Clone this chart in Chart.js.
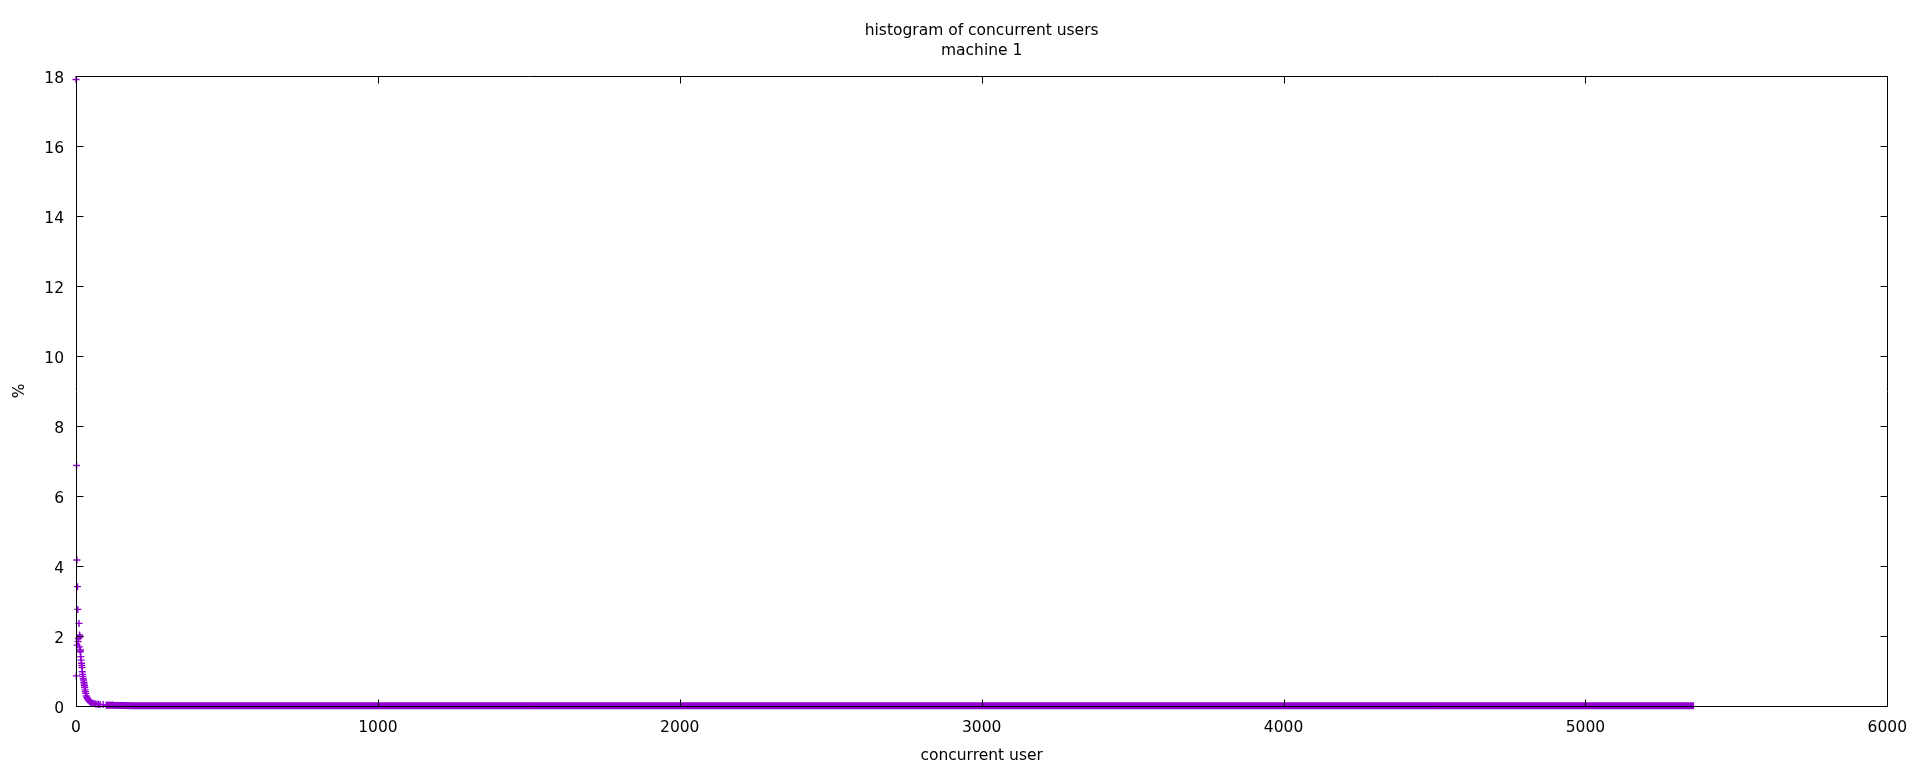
<!DOCTYPE html>
<html>
<head>
<meta charset="utf-8">
<script src="https://cdn.jsdelivr.net/npm/chart.js@4.4.0/dist/chart.umd.min.js"></script>
<style>
  html, body { margin: 0; padding: 0; background: #fff; }
  #wrap { width: 1920px; height: 768px; }
</style>
</head>
<body>
<div id="wrap"><canvas id="chart" width="1920" height="768"></canvas></div>
<script>
// first users: one marker per value
const headX = [0, 1, 2, 3, 4, 5, 6, 7, 8, 10, 11, 12, 13, 14, 15, 16, 17, 18, 19, 20,
               21, 22, 23, 24, 25, 26, 27, 28, 29, 30, 31, 32, 34, 36, 38, 40, 43, 46, 49, 52,
               56, 60, 65, 70, 75, 80, 90, 100, 110, 120];
const headY = [17.9, 0.86, 6.87, 4.17, 1.74, 3.41, 2.76, 1.84, 1.93, 2.36, 1.69, 2.03, 1.97, 1.55, 1.6, 1.41, 1.31, 1.22, 1.16, 1.1,
               0.98, 0.9, 0.84, 0.78, 0.74, 0.68, 0.63, 0.58, 0.53, 0.46, 0.41, 0.36, 0.29, 0.25, 0.22, 0.18, 0.15, 0.12, 0.1, 0.09,
               0.08, 0.07, 0.06, 0.05, 0.05, 0.04, 0.04, 0.03, 0.03, 0.03];

// long flat tail (markers merge into a solid band in the original)
const tailX = [100, 200, 300, 400, 500, 600, 700, 800, 900, 1000, 1100, 1200, 1300, 1400, 1500, 1600, 1700, 1800,
               1900, 2000, 2100, 2200, 2300, 2400, 2500, 2600, 2700, 2800, 2900, 3000, 3100, 3200, 3300, 3400, 3500,
               3600, 3700, 3800, 3900, 4000, 4100, 4200, 4300, 4400, 4500, 4600, 4700, 4800, 4900, 5000, 5100, 5200,
               5300, 5360];
const tailY = [0.02, 0.01, 0.01, 0.01, 0.01, 0.01, 0.01, 0.01, 0.01, 0.01, 0.01, 0.01, 0.01, 0.01, 0.01, 0.01, 0.01, 0.01,
               0.01, 0.01, 0.01, 0.01, 0.01, 0.01, 0.01, 0.01, 0.01, 0.01, 0.01, 0.01, 0.01, 0.01, 0.01, 0.01, 0.01,
               0.01, 0.01, 0.01, 0.01, 0.01, 0.01, 0.01, 0.01, 0.01, 0.01, 0.01, 0.01, 0.01, 0.01, 0.01, 0.01, 0.01,
               0.01, 0.01];

const xTicks = [0, 1000, 2000, 3000, 4000, 5000, 6000];
const yTicks = [0, 2, 4, 6, 8, 10, 12, 14, 16, 18];
const titleLines = ["histogram of concurrent users", "machine 1"];

const purple = "#9400d3";
const fontFam = "'DejaVu Sans', sans-serif";

// gnuplot style frame: box round the plot with inward ticks on all four sides, title centred on the plot
const framePlugin = {
    id: "frame",
    afterDatasetsDraw(chart) {
        const {ctx, chartArea: a, scales} = chart;
        const L = Math.round(a.left) + 0.5, R = Math.round(a.right) + 0.5;
        const T = Math.round(a.top) + 0.5, B = Math.round(a.bottom) + 0.5;
        const len = 7;
        ctx.save();
        ctx.strokeStyle = "#000";
        ctx.lineWidth = 1;
        ctx.beginPath();
        ctx.rect(L, T, R - L, B - T);
        xTicks.forEach(v => {
            const px = Math.round(scales.x.getPixelForValue(v)) + 0.5;
            ctx.moveTo(px, B); ctx.lineTo(px, B - len);
            ctx.moveTo(px, T); ctx.lineTo(px, T + len);
        });
        yTicks.forEach(v => {
            const py = Math.round(scales.y.getPixelForValue(v)) + 0.5;
            ctx.moveTo(L, py); ctx.lineTo(L + len, py);
            ctx.moveTo(R, py); ctx.lineTo(R - len, py);
        });
        ctx.stroke();

        ctx.fillStyle = "#000";
        ctx.font = "15.5px " + fontFam;
        ctx.textAlign = "center";
        ctx.textBaseline = "middle";
        const cx = (a.left + a.right) / 2;
        titleLines.forEach((t, i) => ctx.fillText(t, cx, 31 + i * 19.5));
        ctx.restore();
    }
};

const ctx = document.getElementById("chart").getContext("2d");
new Chart(ctx, {
    type: "scatter",
    data: {
        datasets: [
            {
                label: "head",
                data: headX.map((x, i) => ({x: x, y: headY[i]})),
                showLine: false,
                pointStyle: "cross",
                pointRadius: 3.5,
                pointBorderWidth: 1.4,
                borderColor: purple,
                backgroundColor: purple,
                clip: false,
            },
            {
                label: "tail",
                data: tailX.map((x, i) => ({x: x, y: tailY[i]})),
                showLine: true,
                borderWidth: 7,
                borderColor: purple,
                borderCapStyle: "butt",
                pointRadius: 0,
                clip: false,
            },
        ],
    },
    options: {
        responsive: false,
        animation: false,
        layout: { padding: { left: 0, right: 32, top: 76, bottom: 0 } },
        plugins: {
            legend: { display: false },
            tooltip: { enabled: false },
            title: { display: false },
        },
        scales: {
            x: {
                type: "linear",
                min: xTicks[0],
                max: xTicks[xTicks.length - 1],
                grid: { display: false, drawTicks: false },
                border: { display: false },
                ticks: {
                    stepSize: xTicks[1] - xTicks[0],
                    padding: 13,
                    color: "#000",
                    maxRotation: 0,
                    font: { family: fontFam, size: 15.5 },
                    callback: v => String(v),
                },
                title: {
                    display: true,
                    text: "concurrent user",
                    color: "#000",
                    font: { family: fontFam, size: 15.5 },
                    padding: { top: 0, bottom: 3 },
                },
                afterFit(scale) { scale.height = 62; },
            },
            y: {
                type: "linear",
                min: yTicks[0],
                max: yTicks[yTicks.length - 1],
                grid: { display: false, drawTicks: false },
                border: { display: false },
                ticks: {
                    stepSize: yTicks[1] - yTicks[0],
                    padding: 12,
                    labelOffset: 3,
                    color: "#000",
                    font: { family: fontFam, size: 15.5 },
                    callback: v => String(v),
                },
                title: {
                    display: true,
                    text: "%",
                    color: "#000",
                    font: { family: fontFam, size: 15.5 },
                    padding: { top: 11, bottom: 0 },
                },
                afterFit(scale) { scale.width = 76; },
            },
        },
    },
    plugins: [framePlugin],
});
</script>
</body>
</html>
